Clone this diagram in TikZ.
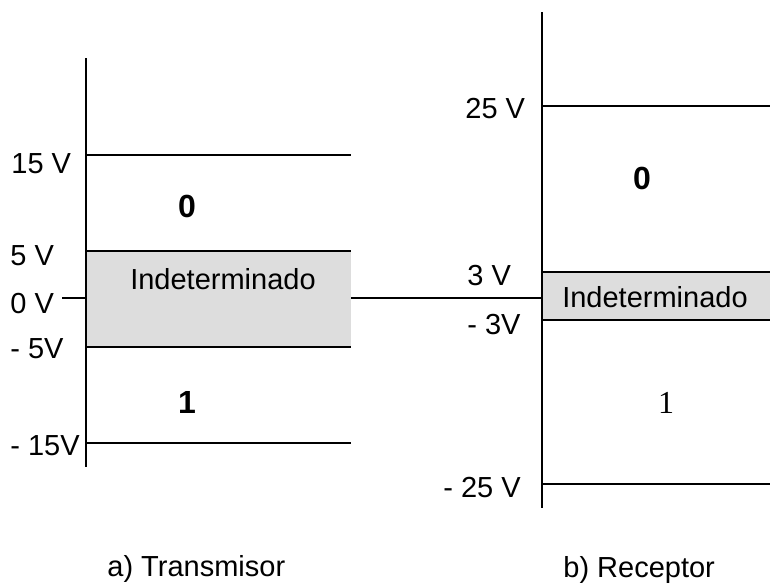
\documentclass[tikz,border=0pt]{standalone}
\usepackage{fontspec}
\setmainfont{Liberation Sans}
\newfontfamily\serifone{Liberation Serif}
\usetikzlibrary{positioning}
\tikzset{
    volt/.style = {anchor=base west, inner sep=0pt, font=\fontsize{14.5}{17}\selectfont},
    bit/.style = {anchor=base, inner sep=0pt, font=\fontsize{16}{18}\selectfont\bfseries},
    zone/.style = {anchor=base, inner sep=0pt, font=\fontsize{14.5}{17}\selectfont},
    level/.style = {line width=1pt},
    band/.style = {fill=black!13.5},
}

\begin{document}
\begin{tikzpicture}[x=0.5pt,y=-0.5pt]
\useasboundingbox (0,0) rectangle (770,585);
%
% transmisor
\fill[band] (86,251) rectangle (351,347);
\coordinate (ta) at (86,58);
\coordinate (tb) at (86,467);
\coordinate (t15) at (86,155);  \coordinate (t15e) at (351,155);
\coordinate (t5) at (86,251);   \coordinate (t5e) at (351,251);
\coordinate (t0) at (62,298);   \coordinate (t0e) at (86,298);
\coordinate (tm5) at (86,347);  \coordinate (tm5e) at (351,347);
\coordinate (tm15) at (86,443); \coordinate (tm15e) at (351,443);
\coordinate (link) at (351,298);
%
\node[volt] (l15) at (11,173) {15 V};
\node[volt] (l5) at (10,265) {5 V};
\node[volt] (l0) at (10,313) {0 V};
\node[volt] (lm5) at (10,358) {- 5V};
\node[volt] (lm15) at (10,455) {- 15V};
\node[bit] (tzero) at (187,217) {0};
\node[zone] (tind) at (223,289) {Indeterminado};
\node[bit] (tone) at (187,413) {1};
\node[volt] (tcap) at (107,576) {a) Transmisor};
%
\draw[level] (ta) -- (tb);
\draw[level] (t15) -- (t15e);
\draw[level] (t5) -- (t5e);
\draw[level] (t0) -- (t0e);
\draw[level] (tm5) -- (tm5e);
\draw[level] (tm15) -- (tm15e);
%
% receptor
\fill[band] (542,272) rectangle (770,320);
\coordinate (ra) at (542,12);
\coordinate (rb) at (542,508);
\coordinate (r25) at (542,106);  \coordinate (r25e) at (770,106);
\coordinate (r3) at (542,272);   \coordinate (r3e) at (770,272);
\coordinate (r0) at (542,298);
\coordinate (rm3) at (542,320);  \coordinate (rm3e) at (770,320);
\coordinate (rm25) at (542,484); \coordinate (rm25e) at (770,484);
%
\node[volt] (q25) at (465,118) {25 V};
\node[volt] (q3) at (467,285) {3 V};
\node[volt] (qm3) at (467,334) {- 3V};
\node[volt] (qm25) at (443,497) {- 25 V};
\node[bit] (rzero) at (642,189) {0};
\node[zone] (rind) at (655,307) {Indeterminado};
\node[zone, font=\fontsize{16}{18}\serifone] (rone) at (666,413) {1};
\node[volt] (rcap) at (563,577) {b) Receptor};
%
\draw[level] (ra) -- (rb);
\draw[level] (r25) -- (r25e);
\draw[level] (r3) -- (r3e);
\draw[line width=0.6pt] (rm3) -- (rm3e);
\draw[level] (rm25) -- (rm25e);
\draw[level] (link) -- (r0);
\end{tikzpicture}
\end{document}
